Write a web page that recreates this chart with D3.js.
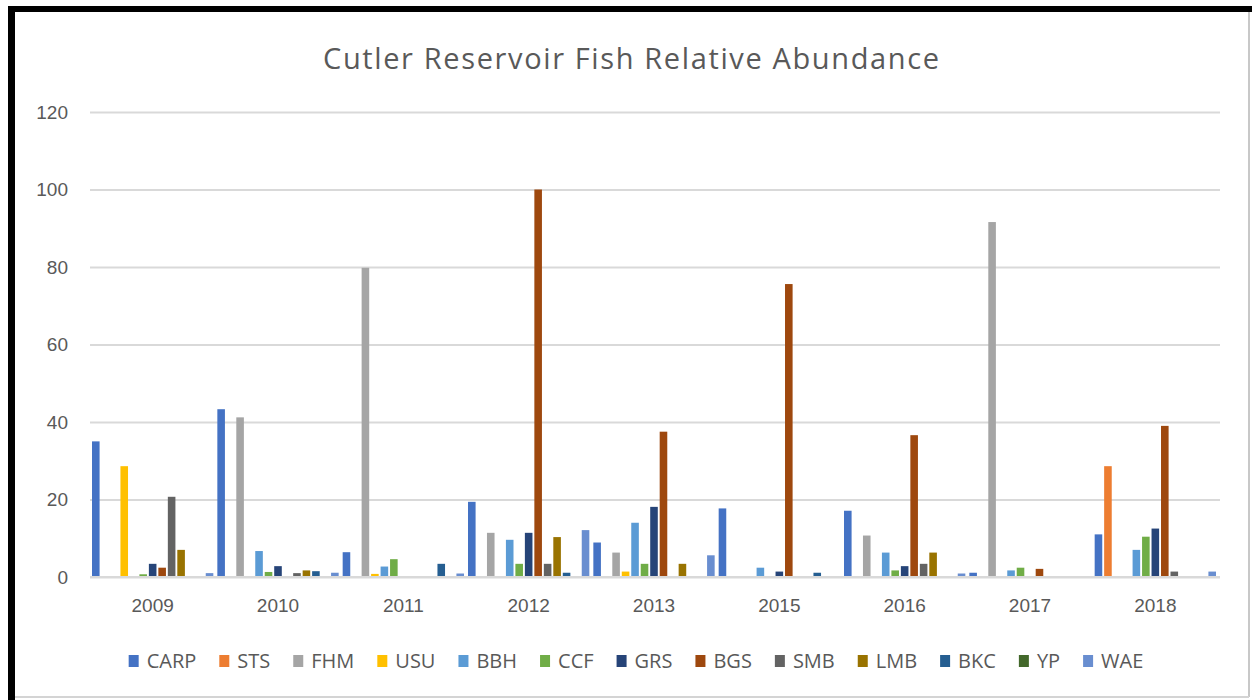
<!DOCTYPE html>
<html>
<head>
<meta charset="utf-8">
<script src="https://cdn.jsdelivr.net/npm/d3@7"></script>
<style>
  body { margin: 0; background: #fff; }
  svg { display: block; font-family: 'Open Sans', sans-serif; }
  .tick text { fill: #595959; }
</style>
</head>
<body>
<script>
'use strict';

// sampling years (2014 was not sampled)
const years = ['2009', '2010', '2011', '2012', '2013', '2015', '2016', '2017', '2018'];

// relative abundance per species, one value per year
const CARP = [35, 43.3, 6.4, 19.4, 8.9, 17.7, 17.1, 1.1, 11.0];
const STS  = [0, 0, 0, 0, 0, 0, 0, 0, 28.6];
const FHM  = [0, 41.2, 79.8, 11.4, 6.3, 0, 10.7, 91.6, 0];
const USU  = [28.6, 0, 0.8, 0, 1.4, 0, 0, 0, 0];
const BBH  = [0, 6.7, 2.7, 9.6, 14.0, 2.4, 6.3, 1.7, 7.0];
const CCF  = [0.7, 1.3, 4.6, 3.4, 3.4, 0, 1.7, 2.4, 10.4];
const GRS  = [3.4, 2.8, 0, 11.4, 18.1, 1.4, 2.8, 0, 12.5];
const BGS  = [2.4, 0, 0, 100, 37.5, 75.6, 36.6, 2.1, 39.0];
const SMB  = [20.7, 1.0, 0, 3.4, 0, 0, 3.4, 0, 1.4];
const LMB  = [7.0, 1.7, 0, 10.3, 3.4, 0, 6.3, 0, 0];
const BKC  = [0, 1.5, 3.4, 1.1, 0, 1.1, 0, 0, 0];
const YP   = [0, 0, 0, 0, 0, 0, 0, 0, 0];
const WAE  = [1.0, 1.1, 0.9, 12.1, 5.6, 0, 0.9, 0, 1.4];

const speciesNames = ['CARP', 'STS', 'FHM', 'USU', 'BBH', 'CCF', 'GRS', 'BGS', 'SMB', 'LMB', 'BKC', 'YP', 'WAE'];
const speciesValues = [CARP, STS, FHM, USU, BBH, CCF, GRS, BGS, SMB, LMB, BKC, YP, WAE];
const yTicks = [0, 20, 40, 60, 80, 100, 120];

(function() {

const W = 1252, H = 700;
const margin = {top: 112, right: 32, bottom: 123, left: 90},
    width = W - margin.left - margin.right,
    height = H - margin.top - margin.bottom;

let color = d3.scaleOrdinal()
    .domain(speciesNames)
    .range(['#4472c4', '#ed7d31', '#a5a5a5', '#ffc000', '#5b9bd5', '#70ad47',
            '#264478', '#9e480e', '#636363', '#997300', '#255e91', '#43682b', '#698ed0']);

let x0 = d3.scaleBand().domain(years).range([0, width - 2]).paddingInner(0.032).paddingOuter(0.016);
let x1 = d3.scaleBand().domain(speciesNames).range([0, x0.bandwidth()]).paddingInner(0.2);
let y = d3.scaleLinear().domain([0, 120]).range([height, 0]);

let svg = d3.select('body').append('svg')
    .attr('width', W)
    .attr('height', H);

svg.append('rect').attr('width', W).attr('height', H).attr('fill', '#fff');

// picture frame: heavy black top/left, thin grey right/bottom
svg.append('rect').attr('x', 8).attr('y', 6).attr('width', W - 8).attr('height', 6).attr('fill', '#000');
svg.append('rect').attr('x', 8).attr('y', 6).attr('width', 7).attr('height', H - 6).attr('fill', '#000');
svg.append('line').attr('x1', 1249).attr('x2', 1249).attr('y1', 12).attr('y2', 697)
    .attr('stroke', '#c8c8c8').attr('stroke-width', 2);
svg.append('line').attr('x1', 15).attr('x2', 1249).attr('y1', 697).attr('y2', 697)
    .attr('stroke', '#d4d4d4').attr('stroke-width', 2);

svg.append('text')
    .attr('x', 631)
    .attr('y', 69)
    .attr('text-anchor', 'middle')
    .attr('fill', '#595959')
    .attr('textLength', 616)
    .attr('lengthAdjust', 'spacing')
    .style('font-size', '29px')
    .text('Cutler Reservoir Fish Relative Abundance');

let g = svg.append('g')
    .attr('transform', 'translate(' + margin.left + ',' + margin.top + ')');

// gridlines + y labels
let yAxis = g.append('g')
    .call(d3.axisLeft(y).tickValues(yTicks).tickSize(-width).tickPadding(22));
yAxis.select('.domain').remove();
yAxis.selectAll('.tick line').attr('stroke', '#d9d9d9').attr('stroke-width', 2);
yAxis.selectAll('.tick text').style('font-size', '19px');

// bars
let groups = g.selectAll('.year')
    .data(years)
  .enter().append('g')
    .attr('class', 'year')
    .attr('transform', function(d) { return 'translate(' + x0(d) + ',0)'; });

groups.selectAll('rect')
    .data(function(d, i) {
      return speciesNames.map(function(s, j) { return {species: s, value: speciesValues[j][i]}; });
    })
  .enter().append('rect')
    .filter(function(d) { return d.value > 0; })
    .attr('x', function(d) { return x1(d.species); })
    .attr('y', function(d) { return y(d.value); })
    .attr('width', x1.bandwidth())
    .attr('height', function(d) { return height - y(d.value); })
    .attr('fill', function(d) { return color(d.species); });

// x axis
let xAxis = g.append('g')
    .attr('transform', 'translate(0,' + height + ')')
    .call(d3.axisBottom(x0).tickSize(0).tickPadding(22));
xAxis.select('.domain').attr('stroke', '#d9d9d9').attr('stroke-width', 2)
    .attr('d', 'M0,0H' + width);
xAxis.selectAll('.tick text').style('font-size', '19px');

// legend, laid out from measured text widths and centred
let legend = svg.append('g').attr('class', 'legend');
let items = legend.selectAll('g')
    .data(speciesNames)
  .enter().append('g');
items.append('rect')
    .attr('y', -6).attr('width', 10).attr('height', 12)
    .attr('fill', function(d) { return color(d); });
items.append('text')
    .attr('x', 18)
    .attr('dy', '0.35em')
    .attr('fill', '#595959')
    .style('font-size', '20px')
    .text(function(d) { return d; });

const gap = 23;
let pos = 0;
items.each(function() {
  let w = 18 + d3.select(this).select('text').node().getComputedTextLength();
  d3.select(this).attr('transform', 'translate(' + pos + ',0)');
  pos += w + gap;
});
pos -= gap;
legend.attr('transform', 'translate(' + (636 - pos / 2) + ',661)');

})();
</script>
</body>
</html>
